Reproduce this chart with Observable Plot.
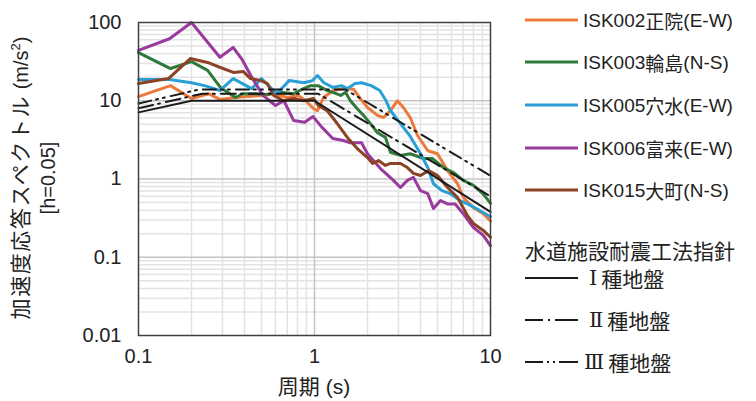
<!DOCTYPE html>
<html><head><meta charset="utf-8">
<script src="https://cdn.jsdelivr.net/npm/d3@7"></script>
<script src="https://cdn.jsdelivr.net/npm/@observablehq/plot@0.6"></script>
<style>
body{margin:0;background:#fff;}
#wrap{position:relative;width:756px;height:401px;font-family:'Liberation Sans',Arial,'Noto Sans CJK JP',sans-serif;color:#222;}
.lg{position:absolute;left:525px;display:flex;align-items:center;font-size:19px;white-space:nowrap;line-height:1;}
.lg svg{margin-right:5px;}
.jp{font-family:'Noto Sans CJK JP',sans-serif;}
.big{font-size:21px;}
.rn{font-family:'DejaVu Serif','Noto Sans CJK JP',serif;font-size:21px;}
#ytitle{position:absolute;left:32px;top:178px;transform:translate(-50%,-50%) rotate(-90deg);font-size:20px;text-align:center;white-space:nowrap;line-height:27px;}
#ytitle .jp{font-size:21px;letter-spacing:1.6px;}
#xtitle{position:absolute;left:314px;top:385px;transform:translate(-50%,-50%);font-size:21px;white-space:nowrap;}
</style></head><body>
<div id="wrap"></div>
<script>
// ---- data: [period (s), Sa (m/s^2)] ----
const isk002 = [[0.1,11.3],[0.152,15.6],[0.2,10.7],[0.25,12.3],[0.29,10.4],[0.356,11],[0.416,11.3],[0.51,11.7],[0.585,12.3],[0.70,11],[0.81,11.7],[0.89,10],[0.99,7.9],[1.04,7.5],[1.125,11],[1.28,13.5],[1.46,14.3],[1.67,14],[1.82,10.7],[2.0,8.2],[2.28,6.5],[2.47,6.1],[2.7,7.5],[2.96,10],[3.2,8.2],[3.5,6.1],[3.85,3.6],[4.4,2.3],[5.0,2.1],[5.7,1.28],[6.5,0.87],[7.0,0.58],[8.0,0.43],[9.1,0.36],[10,0.29]];
const isk003 = [[0.1,41.2],[0.152,25.8],[0.2,31.6],[0.247,24.4],[0.292,14.8],[0.356,11],[0.39,12.3],[0.46,12.3],[0.527,12],[0.64,12.8],[0.76,12.3],[0.866,14.3],[0.95,15.6],[1.05,15.6],[1.185,13.5],[1.27,12.8],[1.41,11.7],[1.5,12.8],[1.6,10],[1.75,7.9],[1.9,6.5],[2.08,5.1],[2.28,3.9],[2.53,3.4],[2.7,2.2],[3.08,2.0],[3.5,2.1],[4.16,1.83],[4.67,1.83],[5.4,1.4],[6.2,1.2],[7.0,0.96],[8.0,0.83],[9.1,0.64],[10,0.49]];
const isk005 = [[0.1,18.7],[0.15,18.7],[0.2,17],[0.24,15.5],[0.29,13.5],[0.345,19.2],[0.44,14.3],[0.5,19.2],[0.61,12.3],[0.72,18.2],[0.87,17],[0.97,18],[1.04,21],[1.13,17],[1.27,14.8],[1.42,15.6],[1.54,14.3],[1.7,16.6],[1.85,17],[2.1,15.6],[2.35,13.5],[2.55,10],[2.7,7.5],[3.08,5.1],[3.5,3.5],[4.0,2.1],[4.4,1.4],[4.74,0.87],[5.3,0.71],[5.9,0.65],[6.7,0.53],[7.4,0.48],[8.3,0.42],[10,0.33]];
const isk006 = [[0.1,44],[0.15,62],[0.2,100],[0.29,36],[0.345,48],[0.39,33],[0.44,20],[0.51,11.7],[0.6,8.7],[0.67,10],[0.76,5.6],[0.88,5.3],[0.98,6.3],[1.1,4.6],[1.27,3.3],[1.46,3.1],[1.6,2.9],[1.85,2.9],[2.0,2.1],[2.37,1.36],[2.81,0.96],[3.08,0.78],[3.37,0.96],[3.65,1.05],[4.0,0.71],[4.4,0.65],[4.74,0.42],[5.2,0.53],[5.7,0.48],[6.3,0.48],[7.0,0.36],[8.0,0.24],[9.1,0.19],[10,0.14]];
const isk015 = [[0.1,16.6],[0.148,19.2],[0.197,34.6],[0.247,30.9],[0.292,26.6],[0.346,23],[0.395,23.6],[0.433,19.2],[0.493,18.2],[0.54,16.6],[0.585,11.7],[0.667,10],[0.76,10.7],[0.866,10],[0.987,10.7],[1.05,8.7],[1.185,7.4],[1.35,5.08],[1.54,3.37],[1.75,2.45],[2.0,1.88],[2.14,1.58],[2.31,1.72],[2.53,1.49],[2.7,1.58],[3.08,1.58],[3.37,1.4],[3.65,1.18],[4.0,1.11],[4.45,1.28],[5.0,1.11],[5.7,0.78],[6.5,0.58],[7.4,0.34],[8.0,0.27],[9.1,0.22],[10,0.18]];
const typeI   = [[0.1,7.1],[0.2,10],[1.0,10],[10,0.38]];
const typeII  = [[0.1,8.0],[0.23,12.3],[1.05,12.3],[10,0.6]];
const typeIII = [[0.1,9.2],[0.22,13.9],[1.5,13.9],[10,1.1]];
const seriesNames = ["ISK002正院(E-W)","ISK003輪島(N-S)","ISK005穴水(E-W)","ISK006富来(E-W)","ISK015大町(N-S)"];
const refNumerals = ["Ⅰ","Ⅱ","Ⅲ"];
const refName = "種地盤";
const legendTitle = "水道施設耐震工法指針";
const xTicks = [0.1,1,10];
const yTicks = [0.01,0.1,1,10,100];
const xMajor = [1];
const yMajor = [0.1,1,10];
const xMinor = [0.2,0.3,0.4,0.5,0.6,0.7,0.8,0.9,2,3,4,5,6,7,8,9];
const yMinor = [0.02,0.03,0.04,0.05,0.06,0.07,0.08,0.09,0.2,0.3,0.4,0.5,0.6,0.7,0.8,0.9,2,3,4,5,6,7,8,9,20,30,40,50,60,70,80,90];

const colors = ["#EC7A3C","#2F7A3A","#2A9FD6","#983A9E","#8C4224"];
const series = [isk002,isk003,isk005,isk006,isk015];
const refs = [typeI,typeII,typeIII];
const dashes = [null,"15,5,2,6","13,5,2,5,2,6"];

const fx = d=>d[0], fy = d=>d[1];
const marks = [
  Plot.ruleX(xMinor,{stroke:"#e3e3e3",strokeWidth:1.5}),
  Plot.ruleY(yMinor,{stroke:"#e3e3e3",strokeWidth:1.5}),
  Plot.ruleX(xMajor,{stroke:"#c4c4c4",strokeWidth:1.5}),
  Plot.ruleY(yMajor,{stroke:"#c4c4c4",strokeWidth:1.5}),
];
series.forEach((s,i)=>marks.push(Plot.line(s,{x:fx,y:fy,stroke:colors[i],strokeWidth:3,strokeLinejoin:"round",curve:"linear"})));
refs.forEach((s,i)=>marks.push(Plot.line(s,{x:fx,y:fy,stroke:"#1a1a1a",strokeWidth:2,strokeDasharray:dashes[i]||undefined})));
marks.push(Plot.frame({stroke:"#404040",strokeWidth:1.5}));
marks.push(Plot.axisX(xTicks,{tickSize:0,tickPadding:13,tickFormat:d=>String(d),label:null}));
marks.push(Plot.axisY(yTicks,{tickSize:0,tickPadding:17,tickFormat:d=>String(d),label:null}));

const chart = Plot.plot({
  width:756,height:401,
  marginLeft:138,marginRight:266,marginTop:22,marginBottom:66,
  style:{fontFamily:"'Liberation Sans',Arial,sans-serif",fontSize:"20px",color:"#222",background:"transparent",overflow:"visible"},
  x:{type:"log",domain:[0.1,10]},
  y:{type:"log",domain:[0.01,100]},
  marks
});
const wrap = document.getElementById("wrap");
wrap.appendChild(chart);

function swatch(color,dash,w){
  return `<svg width="53" height="6"><line x1="0" y1="3" x2="53" y2="3" stroke="${color}" stroke-width="${w}" ${dash?`stroke-dasharray="${dash}"`:""}/></svg>`;
}
const rowsY = [20,62,105,148,190];
seriesNames.forEach((n,i)=>{
  const d=document.createElement("div");d.className="lg";
  d.style.top=(rowsY[i]-10)+"px";d.style.height="20px";
  const m=n.match(/^(ISK\d+)(.+?)(\(.*\))$/);
  d.innerHTML=swatch(colors[i],null,3)+`<span>${m[1]}</span><span class="jp">${m[2]}</span><span>${m[3]}</span>`;
  wrap.appendChild(d);
});
const t=document.createElement("div");t.className="lg jp big";t.style.top="239px";t.style.height="22px";t.textContent=legendTitle;wrap.appendChild(t);
const refY=[278,320,362];
const legDash=[null,"18,5,2,5,23","18,4,2,4,2,4,19"];
const gapL=[6,6,1];
refNumerals.forEach((n,i)=>{
  const d=document.createElement("div");d.className="lg jp big";
  d.style.top=(refY[i]-11)+"px";d.style.height="22px";
  d.innerHTML=swatch("#1a1a1a",legDash[i],2)+`<span class="rn" style="margin-left:${gapL[i]}px;margin-right:4px">${n}</span><span>${refName}</span>`;
  wrap.appendChild(d);
});
const yt=document.createElement("div");yt.id="ytitle";
yt.innerHTML=`<span class="jp">加速度応答スペクトル</span> (m/s<sup style="font-size:13px">2</sup>)<br>[h=0.05]`;
wrap.appendChild(yt);
const xt=document.createElement("div");xt.id="xtitle";
xt.innerHTML=`<span class="jp">周期</span> (s)`;
wrap.appendChild(xt);
</script>
</body></html>
